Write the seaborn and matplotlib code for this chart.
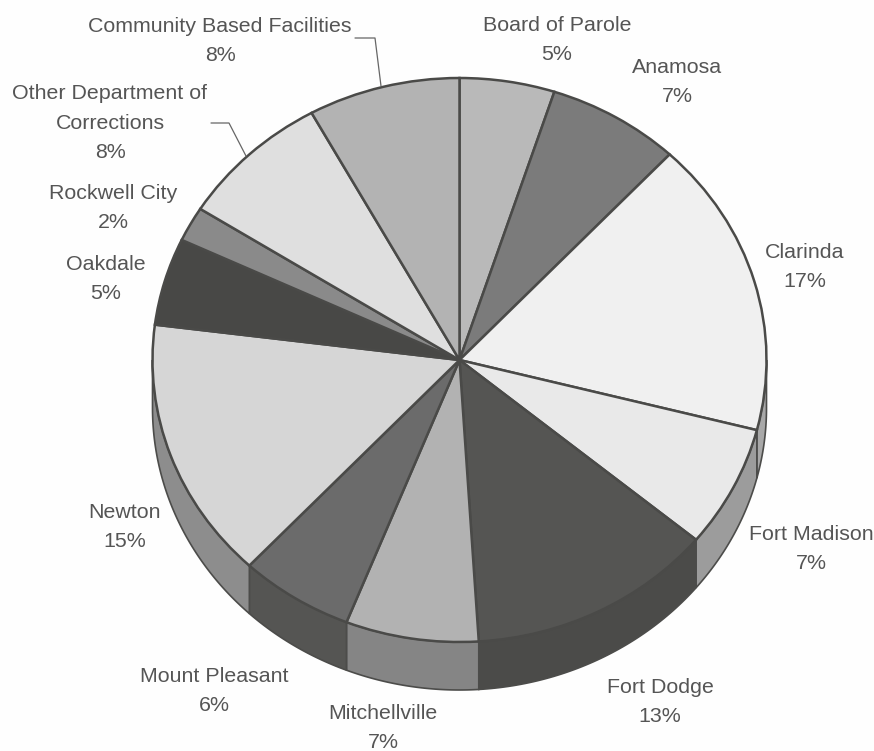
import numpy as np
import matplotlib
matplotlib.use("Agg")
import matplotlib.pyplot as plt
import seaborn as sns

# Share of spending by institution, clockwise from twelve o'clock
names = ["Board of Parole", "Anamosa", "Clarinda", "Fort Madison", "Fort Dodge",
         "Mitchellville", "Mount Pleasant", "Newton", "Oakdale", "Rockwell City",
         "Other Department of\nCorrections", "Community Based Facilities"]
shares = [5, 7, 17, 7, 13, 7, 6, 15, 5, 2, 8, 8]
top_greys = ["#b9b9b9", "#7b7b7b", "#f0f0f0", "#e9e9e9", "#555553", "#b2b2b2",
             "#6b6b6b", "#d6d6d6", "#484846", "#8a8a8a", "#dfdfdf", "#b3b3b3"]
wall_greys = ["#8f8f8f", "#5c5c5c", "#a8a8a8", "#9c9c9c", "#4b4b49", "#858585",
              "#555553", "#8d8d8d", "#3c3c3a", "#666666", "#a0a0a0", "#868686"]
# Label centres in pixels
label_x = [557, 677, 805, 811, 660, 383, 214, 125, 106, 113, 110, 220]
label_y = [40, 82, 267, 549, 702, 728, 691, 527, 279, 208, 123, 41]

W, H = 874, 751
CX, CY, RX, RY, DEPTH = 459.5, 360, 307, 282, 48

sns.set_theme(style="white")
plt.rcParams["font.family"] = ["Liberation Sans", "DejaVu Sans"]

fig = plt.figure(figsize=(W / 100, H / 100), dpi=100, facecolor="#fefefe")
ax = fig.add_axes([0, 0, 1, 1])


def to_data(px, py):
    return (px - CX) / RX, (CY - py) / RY


# Rim of the disc: only the part facing the viewer is visible
drop = DEPTH / RY
edges = np.cumsum([0] + shares) / 100 * 360
for lo, hi, grey in zip(edges[:-1], edges[1:], wall_greys):
    a, b = max(lo, 90), min(hi, 270)
    if a >= b:
        continue
    t = np.radians(np.linspace(a, b, 60))
    xs = np.r_[np.sin(t), np.sin(t[::-1])]
    ys = np.r_[np.cos(t), np.cos(t[::-1]) - drop]
    ax.fill(xs, ys, facecolor=grey, edgecolor="#4c4c4a", linewidth=1.2, zorder=1)

# Top face; the pie's unit circle is stretched into an ellipse by the axes limits
ax.pie(shares, colors=top_greys, startangle=90, counterclock=False, radius=1,
       wedgeprops=dict(edgecolor="#4a4a48", linewidth=1.8, zorder=2))
ax.set_aspect("auto")
ax.set_xlim(to_data(0, 0)[0], to_data(W, 0)[0])
ax.set_ylim(to_data(0, H)[1], to_data(0, 0)[1])
ax.set_axis_off()

for name, share, lx, ly in zip(names, shares, label_x, label_y):
    x, y = to_data(lx, ly)
    ax.text(x, y, f"{name}\n{share}%", ha="center", va="center", fontsize=15.4,
            color="#555555", linespacing=1.72, zorder=4)

# Leader lines for the two labels set away from their slices
for path in ([(355, 38), (375, 38), (381, 86)], [(211, 123), (229, 123), (246, 156)]):
    pts = np.array([to_data(*p) for p in path])
    ax.plot(pts[:, 0], pts[:, 1], color="#666666", linewidth=0.9, zorder=3)

fig.savefig("out.png", dpi=100, facecolor=fig.get_facecolor())
